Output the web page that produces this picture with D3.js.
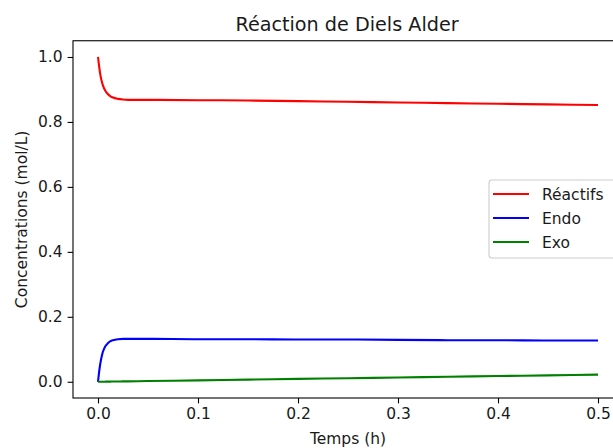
<!DOCTYPE html>
<html>
<head>
<meta charset="utf-8">
<script src="https://cdn.jsdelivr.net/npm/d3@7"></script>
<style>
  body { margin: 0; background: white; }
  svg { display: block; }
  text { font-family: "DejaVu Sans", sans-serif; fill: #1a1a1a; }
</style>
</head>
<body>
<svg class="chart" width="613" height="448"></svg>
<script>
// time in hours
var temps = [0, 0.001, 0.002, 0.003, 0.004, 0.005, 0.0075, 0.01, 0.0125, 0.015, 0.02, 0.025, 0.03,
             0.05, 0.1, 0.15, 0.2, 0.25, 0.3, 0.35, 0.4, 0.45, 0.5];
var reactifs = [1.0, 0.974, 0.952, 0.935, 0.922, 0.912, 0.895, 0.885, 0.879, 0.875, 0.871, 0.869, 0.868,
                0.868, 0.867, 0.866, 0.864, 0.862, 0.860, 0.858, 0.856, 0.854, 0.852];
var endo = [0, 0.027, 0.050, 0.068, 0.082, 0.093, 0.110, 0.119, 0.125, 0.128, 0.131, 0.132, 0.132,
            0.132, 0.131, 0.131, 0.130, 0.130, 0.129, 0.128, 0.128, 0.127, 0.127];
var exo = [0, 0.0001, 0.0001, 0.0001, 0.0002, 0.0002, 0.0003, 0.0004, 0.0005, 0.0007, 0.0009, 0.0011, 0.0013,
           0.0022, 0.0044, 0.0066, 0.0088, 0.011, 0.0132, 0.0154, 0.0176, 0.0198, 0.022];

var series = [
  {name: "Réactifs", values: reactifs, color: "#ff0000"},
  {name: "Endo", values: endo, color: "#0000ff"},
  {name: "Exo", values: exo, color: "#008000"}
];
var xTicks = [0, 0.1, 0.2, 0.3, 0.4, 0.5];
var yTicks = [0, 0.2, 0.4, 0.6, 0.8, 1.0];

var svg = d3.select("svg.chart"),
    margin = {top: 40.75, left: 73, right: 623, bottom: 398},
    fs = 15.5;

svg.append("rect").attr("width", 613).attr("height", 448).attr("fill", "white");

var x = d3.scaleLinear().domain([-0.025, 0.525]).range([margin.left, margin.right]);
var y = d3.scaleLinear().domain([-0.05, 1.05]).range([margin.bottom, margin.top]);

var line = d3.line()
    .x(function(d) { return x(d[0]); })
    .y(function(d) { return y(d[1]); })
    .curve(d3.curveMonotoneX);

series.forEach(function(s) {
  svg.append("path")
    .datum(temps.map(function(t, i) { return [t, s.values[i]]; }))
    .attr("fill", "none")
    .attr("stroke", s.color)
    .attr("stroke-width", 2.1)
    .attr("stroke-linejoin", "round")
    .attr("d", line);
});

// axes
var gx = svg.append("g")
  .attr("transform", "translate(0," + margin.bottom + ")")
  .call(d3.axisBottom(x).tickValues(xTicks).tickFormat(d3.format(".1f")).tickSize(5.4).tickPadding(5));
var gy = svg.append("g")
  .attr("transform", "translate(" + margin.left + ",0)")
  .call(d3.axisLeft(y).tickValues(yTicks).tickFormat(d3.format(".1f")).tickSize(5.4).tickPadding(5));
[gx, gy].forEach(function(g) {
  g.select(".domain").remove();
  g.selectAll(".tick line").attr("stroke", "black").attr("stroke-width", 1.1);
  g.selectAll(".tick text").style("font-size", fs + "px").attr("fill", "#1a1a1a")
    .style("font-family", "DejaVu Sans");
});

// frame
svg.append("rect")
  .attr("x", margin.left).attr("y", margin.top)
  .attr("width", margin.right - margin.left).attr("height", margin.bottom - margin.top)
  .attr("fill", "none").attr("stroke", "black").attr("stroke-width", 1.1);

// title and labels
svg.append("text")
  .attr("x", (margin.left + margin.right) / 2 - 1).attr("y", 31)
  .attr("text-anchor", "middle").style("font-size", "19.2px")
  .text("Réaction de Diels Alder");
svg.append("text")
  .attr("x", (margin.left + margin.right) / 2).attr("y", 444)
  .attr("text-anchor", "middle").style("font-size", fs + "px")
  .text("Temps (h)");
svg.append("text")
  .attr("transform", "translate(27," + ((margin.top + margin.bottom) / 2) + ") rotate(-90)")
  .attr("text-anchor", "middle").style("font-size", fs + "px")
  .text("Concentrations (mol/L)");

// legend
var lg = svg.append("g").attr("transform", "translate(489,180)");
lg.append("rect")
  .attr("width", 140).attr("height", 78).attr("rx", 3)
  .attr("fill", "white").attr("fill-opacity", 0.8)
  .attr("stroke", "#cccccc").attr("stroke-width", 1.1);
series.forEach(function(s, i) {
  var ly = 14 + i * 24;
  lg.append("line")
    .attr("x1", 4).attr("x2", 40).attr("y1", ly).attr("y2", ly)
    .attr("stroke", s.color).attr("stroke-width", 2.1);
  lg.append("text")
    .attr("x", 53).attr("y", ly + 5.5)
    .style("font-size", fs + "px")
    .text(s.name);
});
</script>
</body>
</html>
